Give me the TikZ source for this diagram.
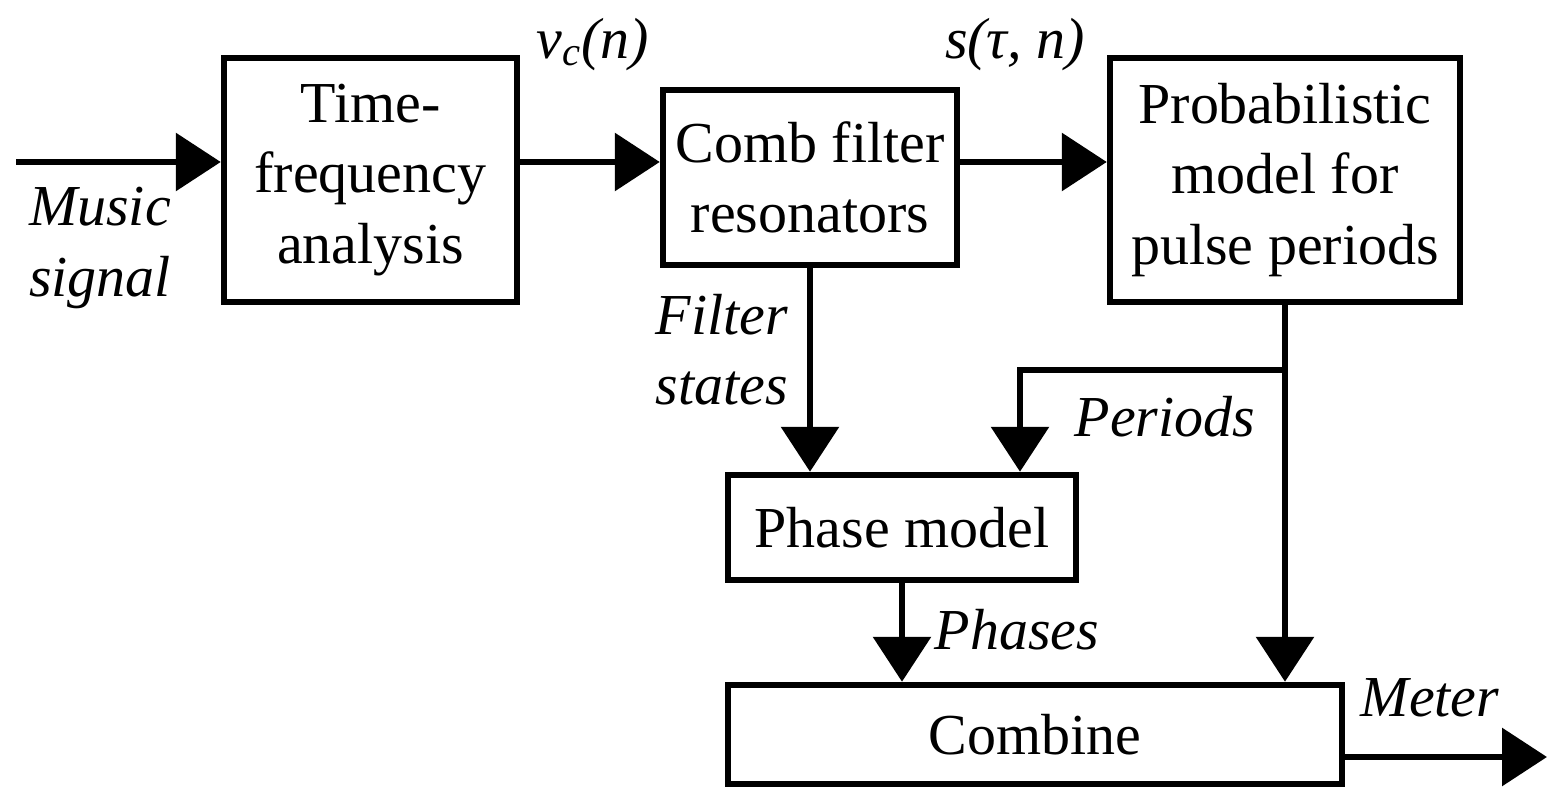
\documentclass[tikz,border=0pt]{standalone}
\usepackage{fontspec}
\setmainfont{Liberation Serif}
\usepackage{tikz}
\usetikzlibrary{arrows.meta}

\begin{document}
\begin{tikzpicture}[x=0.02cm, y=0.02cm,
  box/.style={draw, black, line width=3.7pt, inner sep=0pt, align=center, font=\fontsize{33}{40}\selectfont},
  lab/.style={inner sep=0pt, align=center, font=\fontsize{33}{40}\selectfont\itshape},
  arr/.style={black, line width=3.7pt, -{Triangle[length=0.9cm, width=1.14cm]}}]

\useasboundingbox (0,0) rectangle (1549,788);

% blocks
\node[box, minimum width=5.86cm, minimum height=4.88cm] (tf) at (370.5,608) {Time-\\frequency\\analysis};
\node[box, minimum width=5.88cm, minimum height=3.5cm] (comb) at (810,610.5) {Comb filter\\resonators};
\node[box, minimum width=7cm, minimum height=4.88cm] (prob) at (1285,608) {Probabilistic\\model for\\pulse periods};
\node[box, minimum width=6.96cm, minimum height=2.1cm] (phase) at (902,260.5) {Phase model};
\node[box, minimum width=12.28cm, minimum height=1.98cm] (combine) at (1035,53.5) {Combine};

% free ends
\coordinate (in) at (16,626);
\coordinate (out) at (1547,31);
\coordinate (pk) at (1020,418);

% connectors
\draw[arr] (in) -- (tf.west |- in);
\draw[arr] (tf.east |- in) -- (comb.west |- in);
\draw[arr] (comb.east |- in) -- (prob.west |- in);
\draw[arr] (comb.south) -- (comb.south |- phase.north);
\draw[arr] (prob.south) -- (prob.south |- combine.north);
\draw[arr] (pk -| prob.south) -- (pk) -- (pk |- phase.north);
\draw[arr] (phase.south) -- (phase.south |- combine.north);
\draw[arr] (combine.east |- out) -- (out);

% labels
\node[lab] (music) at (100,540) {Music\\signal};
\node[lab] (vc) at (593,743) {v\textsubscript{c}(n)};
\node[lab] (stn) at (1015,743) {s(τ, n)};
\node[lab] (fstates) at (722,438) {Filter\\states};
\node[lab] (periods) at (1165,371) {Periods};
\node[lab] (phases) at (1017,158) {Phases};
\node[lab] (meter) at (1430,90) {Meter};

\end{tikzpicture}
\end{document}
